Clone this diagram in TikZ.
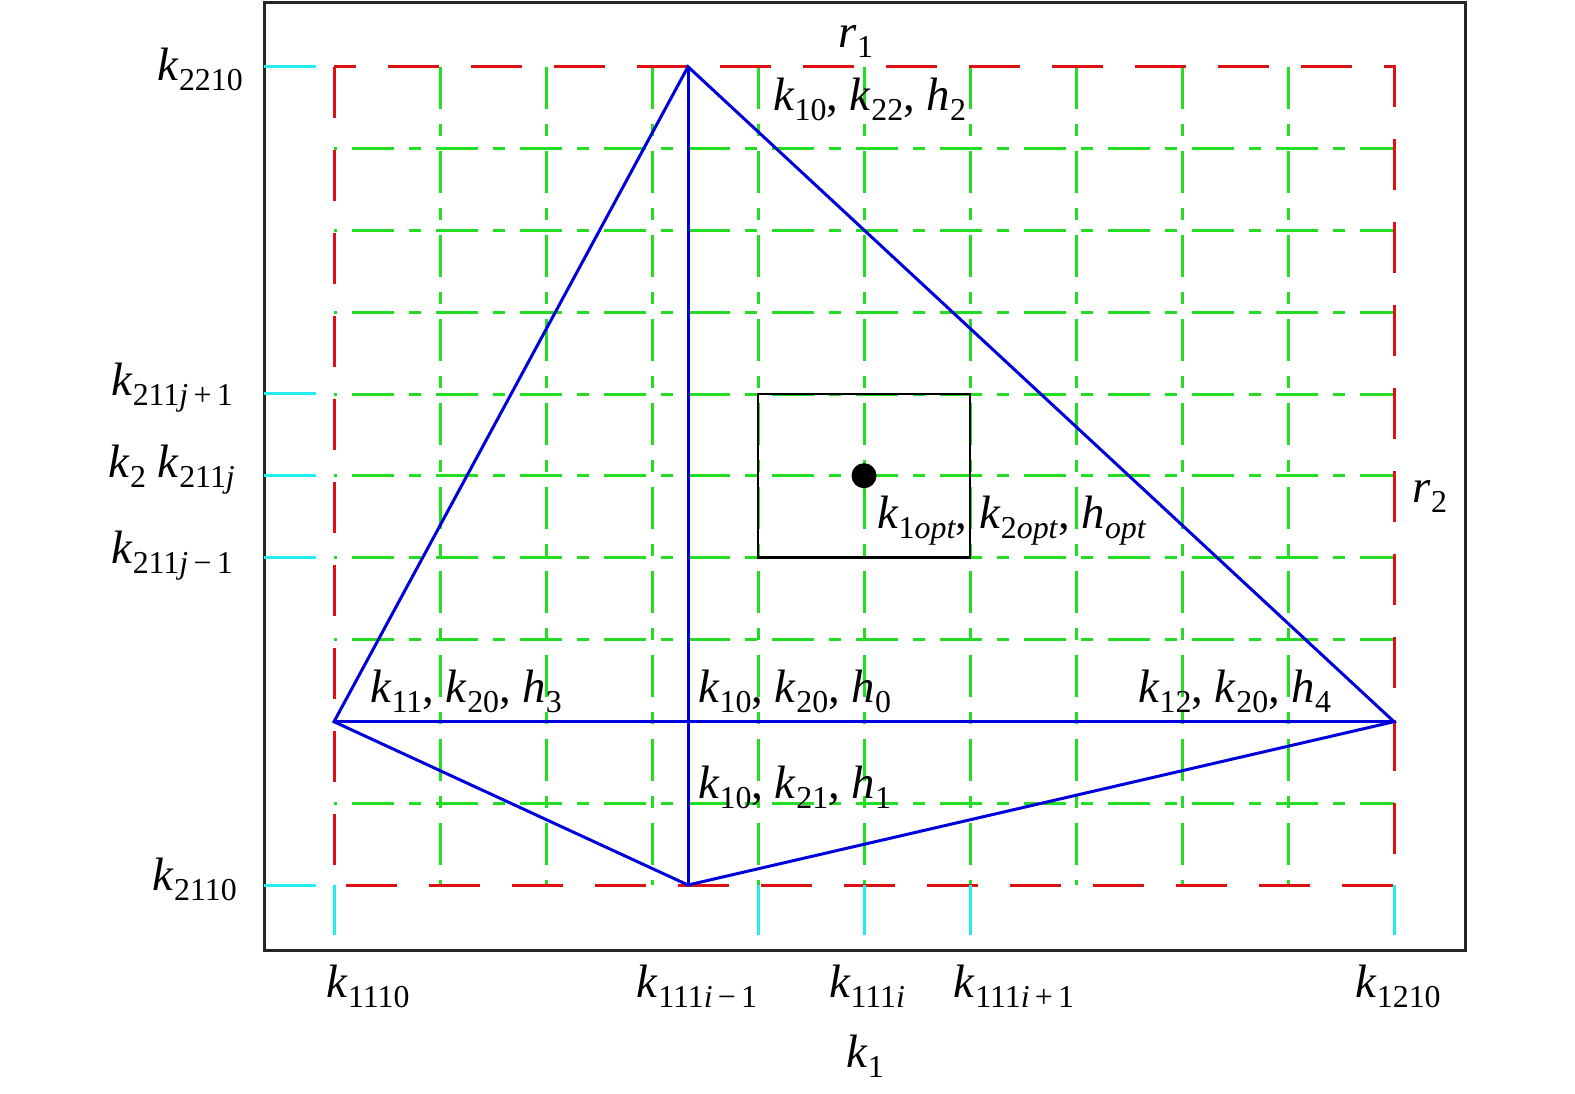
\documentclass[tikz,border=0pt]{standalone}
\usepackage{fontspec}
\setmainfont{Liberation Serif}
\definecolor{gridgreen}{RGB}{34,221,34}
\definecolor{boxred}{RGB}{221,17,17}
\definecolor{tickcyan}{RGB}{34,238,238}
\definecolor{lineblue}{RGB}{0,0,221}
\newcommand{\kv}[2]{\textit{#1}\raisebox{-0.22em}{\fontsize{32}{38}\selectfont #2}}

\begin{document}
\begin{tikzpicture}[
    x=1bp, y=-1bp,
    every node/.style={inner sep=0pt, font=\fontsize{47}{56}\selectfont},
    frame/.style={draw=black!85, line width=3bp},
    redbox/.style={draw=boxred, line width=3bp, dash pattern=on 51bp off 32bp},
    gridln/.style={draw=gridgreen, line width=3bp,
                   dash pattern=on 42bp off 15bp on 12bp off 15bp},
    cyantick/.style={draw=tickcyan, line width=3bp},
    blueln/.style={draw=lineblue, line width=3bp},
    optbox/.style={draw=black, line width=2.5bp},
]
\useasboundingbox (0,0) rectangle (1575,1093);
\draw[frame] (264,2) rectangle (1465,950);

\foreach \i in {1,...,9} {
    \draw[gridln] ({334+106*\i},66.7) -- ({334+106*\i},885);
    \draw[gridln, dash phase=66bp] (334,{66.7+81.83*\i}) -- (1394,{66.7+81.83*\i});
}
\draw[redbox] (334,66.7) rectangle (1394,885);

\foreach \y in {66.7,393.9,475.7,557.5,885}
    \draw[cyantick] (264,\y) -- (316,\y);
\foreach \x in {334,758,864,970,1394}
    \draw[cyantick] (\x,885) -- (\x,935);

\draw[optbox] (758,393.9) rectangle (970,557.5);
\fill (864,475.7) circle (12.5);

\coordinate (vt) at (688,66.7);
\coordinate (vb) at (688,885);
\coordinate (vl) at (334,721.7);
\coordinate (vr) at (1394,721.7);
\draw[blueln] (vt) -- (vl) -- (vb) -- (vr) -- cycle;
\draw[blueln] (vt) -- (vb);
\draw[blueln] (vl) -- (vr);

\node[anchor=base east] (k2210) at (243,80) {\kv{k}{2210}};
\node[anchor=base east] (k211jp) at (233,395) {\kv{k}{211\textit{j}\,+\,1}};
\node[anchor=base east] (k211j) at (235,477) {\kv{k}{2} \kv{k}{211\textit{j}}};
\node[anchor=base east] (k211jm) at (233,563) {\kv{k}{211\textit{j}\,−\,1}};
\node[anchor=base east] (k2110) at (237,890) {\kv{k}{2110}};

\node[anchor=base] (k1110) at (368,997) {\kv{k}{1110}};
\node[anchor=base] (k111im) at (697,997) {\kv{k}{111\textit{i}\,−\,1}};
\node[anchor=base] (k111i) at (867,997) {\kv{k}{111\textit{i}}};
\node[anchor=base] (k111ip) at (1014,997) {\kv{k}{111\textit{i}\,+\,1}};
\node[anchor=base] (k1210) at (1398,997) {\kv{k}{1210}};
\node[anchor=base] (k1) at (865,1067) {\kv{k}{1}};

\node[anchor=base] (r1) at (856,47) {\kv{r}{1}};
\node[anchor=base] (r2) at (1430,502) {\kv{r}{2}};

\node[anchor=base west] (htop) at (773,110) {\kv{k}{10}, \kv{k}{22}, \kv{h}{2}};
\node[anchor=base west] (hopt) at (877,528) {\kv{k}{1\textit{opt}}, \kv{k}{2\textit{opt}}, \kv{h}{\textit{opt}}};
\node[anchor=base west] (hleft) at (370,702) {\kv{k}{11}, \kv{k}{20}, \kv{h}{3}};
\node[anchor=base west] (hmid) at (698,702) {\kv{k}{10}, \kv{k}{20}, \kv{h}{0}};
\node[anchor=base west] (hlow) at (698,798) {\kv{k}{10}, \kv{k}{21}, \kv{h}{1}};
\node[anchor=base west] (hright) at (1138,702) {\kv{k}{12}, \kv{k}{20}, \kv{h}{4}};
\end{tikzpicture}
\end{document}
